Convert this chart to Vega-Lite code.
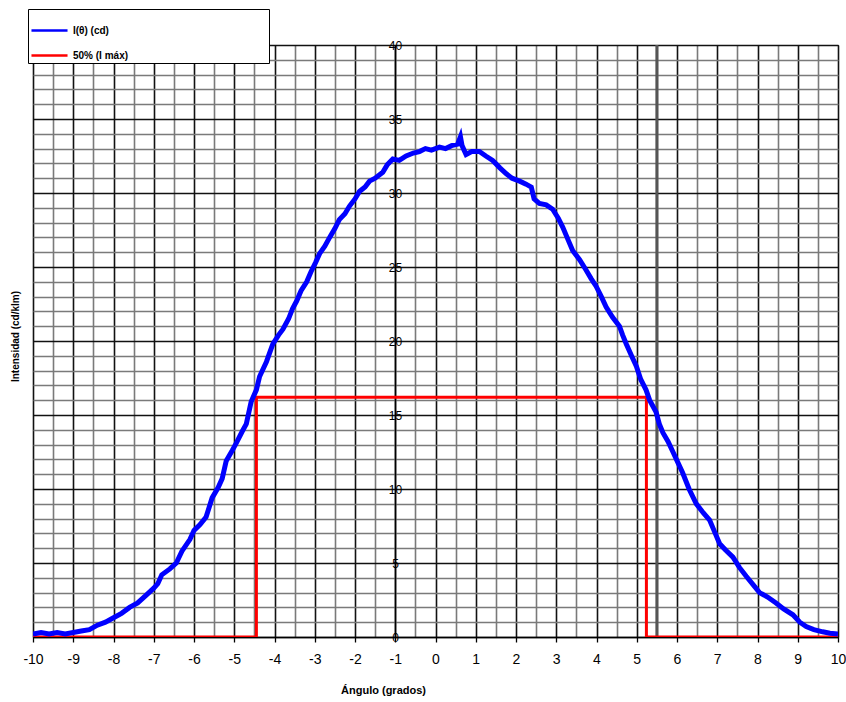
{
  "$schema": "https://vega.github.io/schema/vega-lite/v6.json",
  "width": 805,
  "height": 592,
  "autosize": {"type": "none"},
  "padding": {"left": 33, "top": 45, "right": 8, "bottom": 65},
  "background": "white",
  "config": {
    "view": {"stroke": "#000", "strokeWidth": 1},
    "font": "Liberation Sans",
    "legend": {
      "orient": "none",
      "legendX": -5,
      "legendY": -36,
      "fillColor": "white",
      "strokeColor": "#000",
      "padding": 2,
      "symbolType": "stroke",
      "symbolSize": 1300,
      "symbolStrokeWidth": 2.5,
      "labelFont": "Liberation Sans",
      "labelFontSize": 10,
      "labelFontWeight": "bold",
      "labelColor": "#000",
      "labelLimit": 0,
      "rowPadding": 0
    }
  },
  "datasets": {
    "curve": [
      {"x": -10.0, "y": 0.2}, {"x": -9.8, "y": 0.3}, {"x": -9.6, "y": 0.2}, {"x": -9.4, "y": 0.3},
      {"x": -9.2, "y": 0.2}, {"x": -9.0, "y": 0.3}, {"x": -8.8, "y": 0.4}, {"x": -8.6, "y": 0.5},
      {"x": -8.4, "y": 0.8}, {"x": -8.2, "y": 1.0}, {"x": -8.0, "y": 1.3}, {"x": -7.8, "y": 1.6},
      {"x": -7.6, "y": 2.0}, {"x": -7.4, "y": 2.3}, {"x": -7.2, "y": 2.8}, {"x": -7.0, "y": 3.3},
      {"x": -6.9, "y": 3.6}, {"x": -6.8, "y": 4.2}, {"x": -6.6, "y": 4.6}, {"x": -6.44, "y": 5.0},
      {"x": -6.3, "y": 5.8}, {"x": -6.1, "y": 6.6}, {"x": -6.0, "y": 7.2}, {"x": -5.85, "y": 7.6},
      {"x": -5.7, "y": 8.1}, {"x": -5.55, "y": 9.4}, {"x": -5.4, "y": 10.1}, {"x": -5.3, "y": 10.7},
      {"x": -5.2, "y": 11.9}, {"x": -5.05, "y": 12.6}, {"x": -4.95, "y": 13.1}, {"x": -4.8, "y": 13.9},
      {"x": -4.7, "y": 14.4}, {"x": -4.58, "y": 15.9}, {"x": -4.45, "y": 16.7}, {"x": -4.37, "y": 17.6},
      {"x": -4.2, "y": 18.6}, {"x": -4.04, "y": 19.8}, {"x": -3.9, "y": 20.4}, {"x": -3.79, "y": 20.8},
      {"x": -3.65, "y": 21.5}, {"x": -3.55, "y": 22.2}, {"x": -3.45, "y": 22.7}, {"x": -3.34, "y": 23.4},
      {"x": -3.2, "y": 24.0}, {"x": -3.09, "y": 24.7}, {"x": -2.98, "y": 25.3}, {"x": -2.88, "y": 25.9},
      {"x": -2.75, "y": 26.4}, {"x": -2.63, "y": 27.0}, {"x": -2.5, "y": 27.6}, {"x": -2.39, "y": 28.2},
      {"x": -2.25, "y": 28.6}, {"x": -2.14, "y": 29.1}, {"x": -2.0, "y": 29.6}, {"x": -1.89, "y": 30.1},
      {"x": -1.75, "y": 30.4}, {"x": -1.64, "y": 30.8}, {"x": -1.5, "y": 31.0}, {"x": -1.31, "y": 31.4},
      {"x": -1.2, "y": 31.9}, {"x": -1.06, "y": 32.3}, {"x": -0.9, "y": 32.2}, {"x": -0.73, "y": 32.5},
      {"x": -0.55, "y": 32.7}, {"x": -0.4, "y": 32.8}, {"x": -0.25, "y": 33.0}, {"x": -0.1, "y": 32.9},
      {"x": 0.1, "y": 33.1}, {"x": 0.25, "y": 33.0}, {"x": 0.4, "y": 33.2}, {"x": 0.55, "y": 33.3},
      {"x": 0.62, "y": 33.8}, {"x": 0.66, "y": 33.2}, {"x": 0.76, "y": 32.6}, {"x": 0.9, "y": 32.8},
      {"x": 1.09, "y": 32.8}, {"x": 1.25, "y": 32.5}, {"x": 1.42, "y": 32.2}, {"x": 1.6, "y": 31.7},
      {"x": 1.76, "y": 31.3}, {"x": 1.9, "y": 31.0}, {"x": 2.09, "y": 30.8}, {"x": 2.25, "y": 30.6},
      {"x": 2.38, "y": 30.4}, {"x": 2.45, "y": 29.6}, {"x": 2.58, "y": 29.3}, {"x": 2.75, "y": 29.2},
      {"x": 2.91, "y": 28.9}, {"x": 3.05, "y": 28.3}, {"x": 3.16, "y": 27.7}, {"x": 3.3, "y": 26.8},
      {"x": 3.41, "y": 26.1}, {"x": 3.58, "y": 25.5}, {"x": 3.74, "y": 24.8}, {"x": 3.87, "y": 24.2},
      {"x": 3.99, "y": 23.7}, {"x": 4.12, "y": 23.0}, {"x": 4.24, "y": 22.3}, {"x": 4.4, "y": 21.6},
      {"x": 4.57, "y": 21.0}, {"x": 4.65, "y": 20.4}, {"x": 4.74, "y": 19.8}, {"x": 4.87, "y": 19.0},
      {"x": 4.99, "y": 18.3}, {"x": 5.1, "y": 17.4}, {"x": 5.23, "y": 16.7}, {"x": 5.32, "y": 16.0},
      {"x": 5.48, "y": 15.2}, {"x": 5.56, "y": 14.4}, {"x": 5.65, "y": 13.8}, {"x": 5.78, "y": 13.2},
      {"x": 5.9, "y": 12.5}, {"x": 6.02, "y": 11.8}, {"x": 6.14, "y": 11.1}, {"x": 6.3, "y": 10.0},
      {"x": 6.48, "y": 9.0}, {"x": 6.65, "y": 8.4}, {"x": 6.81, "y": 7.9}, {"x": 6.95, "y": 7.0},
      {"x": 7.06, "y": 6.3}, {"x": 7.2, "y": 5.9}, {"x": 7.39, "y": 5.4}, {"x": 7.55, "y": 4.7},
      {"x": 7.72, "y": 4.1}, {"x": 7.9, "y": 3.5}, {"x": 8.05, "y": 3.0}, {"x": 8.25, "y": 2.7},
      {"x": 8.46, "y": 2.3}, {"x": 8.65, "y": 1.9}, {"x": 8.88, "y": 1.5}, {"x": 9.05, "y": 1.0},
      {"x": 9.21, "y": 0.7}, {"x": 9.4, "y": 0.5}, {"x": 9.62, "y": 0.35}, {"x": 9.8, "y": 0.25},
      {"x": 10.0, "y": 0.2}
    ],
    "halfmax": [
      {"i": 1, "x": -10.0, "y": 0},
      {"i": 2, "x": -4.45, "y": 0},
      {"i": 3, "x": -4.45, "y": 16.2},
      {"i": 4, "x": 5.24, "y": 16.2},
      {"i": 5, "x": 5.24, "y": 0},
      {"i": 6, "x": 10.0, "y": 0}
    ],
    "marker": [{"x": 5.5}]
  },
  "layer": [
    {
      "data": {"name": "marker"},
      "mark": {"type": "rule", "color": "#555", "strokeWidth": 3},
      "encoding": {
        "x": {"field": "x", "type": "quantitative", "title": "Ángulo (grados)"}
      }
    },
    {
      "data": {"name": "halfmax"},
      "transform": [{"calculate": "'50% (I máx)'", "as": "serie"}],
      "mark": {"type": "line", "strokeWidth": 3, "clip": true},
      "encoding": {
        "x": {"field": "x", "type": "quantitative", "title": "Ángulo (grados)"},
        "y": {"field": "y", "type": "quantitative", "title": "Intensidad (cd/klm)"},
        "order": {"field": "i"},
        "color": {
          "field": "serie",
          "type": "nominal",
          "scale": {"domain": ["I(θ) (cd)", "50% (I máx)"], "range": ["#0000ff", "#ff0000"]},
          "legend": {
            "title": null,
            "labelExpr": "pad(datum.label, 61, '\u00a0') + '\u200b'"
          }
        }
      }
    },
    {
      "data": {"name": "curve"},
      "transform": [{"calculate": "'I(θ) (cd)'", "as": "serie"}],
      "mark": {"type": "line", "strokeWidth": 5, "clip": true},
      "encoding": {
        "x": {
          "field": "x",
          "type": "quantitative",
          "title": "Ángulo (grados)",
          "scale": {"domain": [-10, 10], "nice": false, "zero": false},
          "axis": {
            "values": [-10, -9.5, -9, -8.5, -8, -7.5, -7, -6.5, -6, -5.5, -5, -4.5, -4, -3.5, -3, -2.5, -2, -1.5, -1, -0.5, 0, 0.5, 1, 1.5, 2, 2.5, 3, 3.5, 4, 4.5, 5, 5.5, 6, 6.5, 7, 7.5, 8, 8.5, 9, 9.5, 10],
            "tickCount": 200,
            "labelExpr": "datum.value % 1 === 0 ? '' + datum.value : ''",
            "grid": true,
            "gridColor": {"condition": {"test": "datum.value % 1 === 0", "value": "#111"}, "value": "#7a7a7a"},
            "gridWidth": 1.6,
            "gridOpacity": 1,
            "domainColor": "#000",
            "domainWidth": 1.5,
            "tickColor": "#000",
            "tickOpacity": {"condition": {"test": "datum.value % 1 === 0", "value": 1}, "value": 0},
            "tickSize": 5,
            "tickWidth": 1.3,
            "labelFontSize": 14,
            "labelColor": "#000",
            "labelPadding": 10,
            "labelFlush": false,
            "labelOverlap": false,
            "titleFontSize": 11,
            "titleFontWeight": "bold",
            "titleColor": "#000",
            "titleX": 350,
            "titleY": 53,
            "titleBaseline": "middle"
          }
        },
        "y": {
          "field": "y",
          "type": "quantitative",
          "title": "Intensidad (cd/klm)",
          "scale": {"domain": [0, 40], "nice": false},
          "axis": {
            "values": [0, 1, 2, 3, 4, 5, 6, 7, 8, 9, 10, 11, 12, 13, 14, 15, 16, 17, 18, 19, 20, 21, 22, 23, 24, 25, 26, 27, 28, 29, 30, 31, 32, 33, 34, 35, 36, 37, 38, 39, 40],
            "tickCount": 200,
            "labelExpr": "datum.value % 5 === 0 ? '' + datum.value : ''",
            "offset": -362,
            "grid": true,
            "gridColor": {"condition": {"test": "datum.value % 5 === 0", "value": "#111"}, "value": "#7a7a7a"},
            "gridWidth": 1.6,
            "gridOpacity": 1,
            "domainColor": "#000",
            "domainWidth": 1.5,
            "ticks": false,
            "labelAlign": "center",
            "labelPadding": 0,
            "labelFontSize": 12,
            "labelColor": "#000",
            "labelFlush": false,
            "labelOverlap": false,
            "titleFontSize": 10,
            "titleFontWeight": "bold",
            "titleColor": "#000",
            "titleX": -380,
            "titleY": 291,
            "titleAlign": "center",
            "titleBaseline": "middle",
            "titleAngle": -90
          }
        },
        "order": {"field": "x"},
        "color": {
          "field": "serie",
          "type": "nominal",
          "scale": {"domain": ["I(θ) (cd)", "50% (I máx)"], "range": ["#0000ff", "#ff0000"]},
          "legend": {
            "title": null,
            "labelExpr": "pad(datum.label, 61, '\u00a0') + '\u200b'"
          }
        }
      }
    }
  ]
}
